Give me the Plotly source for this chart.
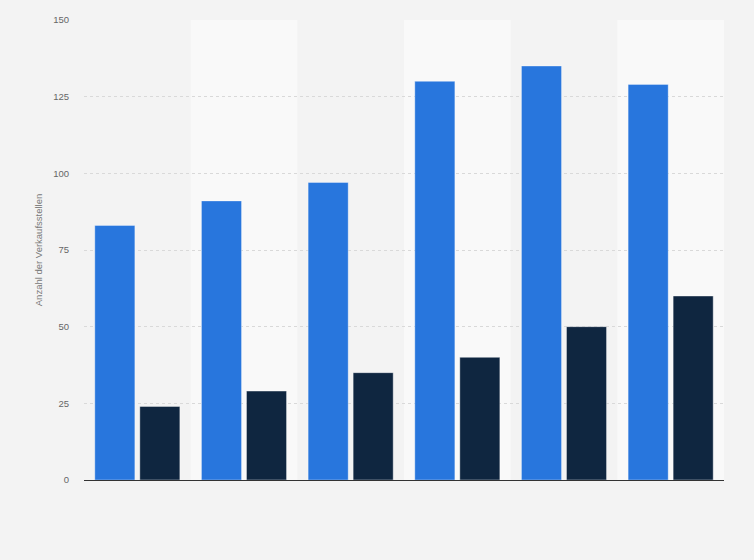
import plotly.graph_objects as go

categories = ["1", "2", "3", "4", "5", "6"]
series_a = [83, 91, 97, 130, 135, 129]
series_b = [24, 29, 35, 40, 50, 60]
y_ticks = [0, 25, 50, 75, 100, 125, 150]

fig = go.Figure()
fig.add_trace(go.Bar(x=categories, y=series_a, name="A",
                     marker=dict(color="#2876dd", line=dict(color="rgba(255,255,255,0.35)", width=1))))
fig.add_trace(go.Bar(x=categories, y=series_b, name="B",
                     marker=dict(color="#0f2640", line=dict(color="rgba(255,255,255,0.4)", width=1))))

shapes = []
for i in range(len(categories)):
    if i % 2 == 1:
        shapes.append(dict(type="rect", xref="x", yref="paper", x0=i - 0.5, x1=i + 0.5,
                           y0=0, y1=1, fillcolor="#f9f9f9", line=dict(width=0), layer="below"))

fig.update_layout(
    width=754, height=560,
    margin=dict(l=84, r=30, t=20, b=80),
    paper_bgcolor="#f3f3f3", plot_bgcolor="#f3f3f3",
    barmode="group", bargap=0.156, bargroupgap=0.11,
    showlegend=False,
    shapes=shapes,
    font=dict(family="Liberation Sans, Arial, sans-serif", color="#666666", size=10),
)
fig.update_xaxes(showticklabels=False, showgrid=False, showline=True, linecolor="#333333",
                 linewidth=1, ticks="", range=[-0.5, len(categories) - 0.5])
fig.update_yaxes(range=[0, 150], tickvals=y_ticks, showgrid=True, gridcolor="#d9d9d9",
                 griddash="dot", gridwidth=1, zeroline=False, ticks="", ticklen=0,
                 ticklabelstandoff=14,
                 title=dict(text="Anzahl der Verkaufsstellen", font=dict(size=9.5, color="#777777"),
                            standoff=8),
                 tickfont=dict(size=9.5, color="#666666"))

fig.write_html("out.html", config={"displayModeBar": False},
               post_script="document.body.style.margin='0';document.body.style.overflow='hidden';")
